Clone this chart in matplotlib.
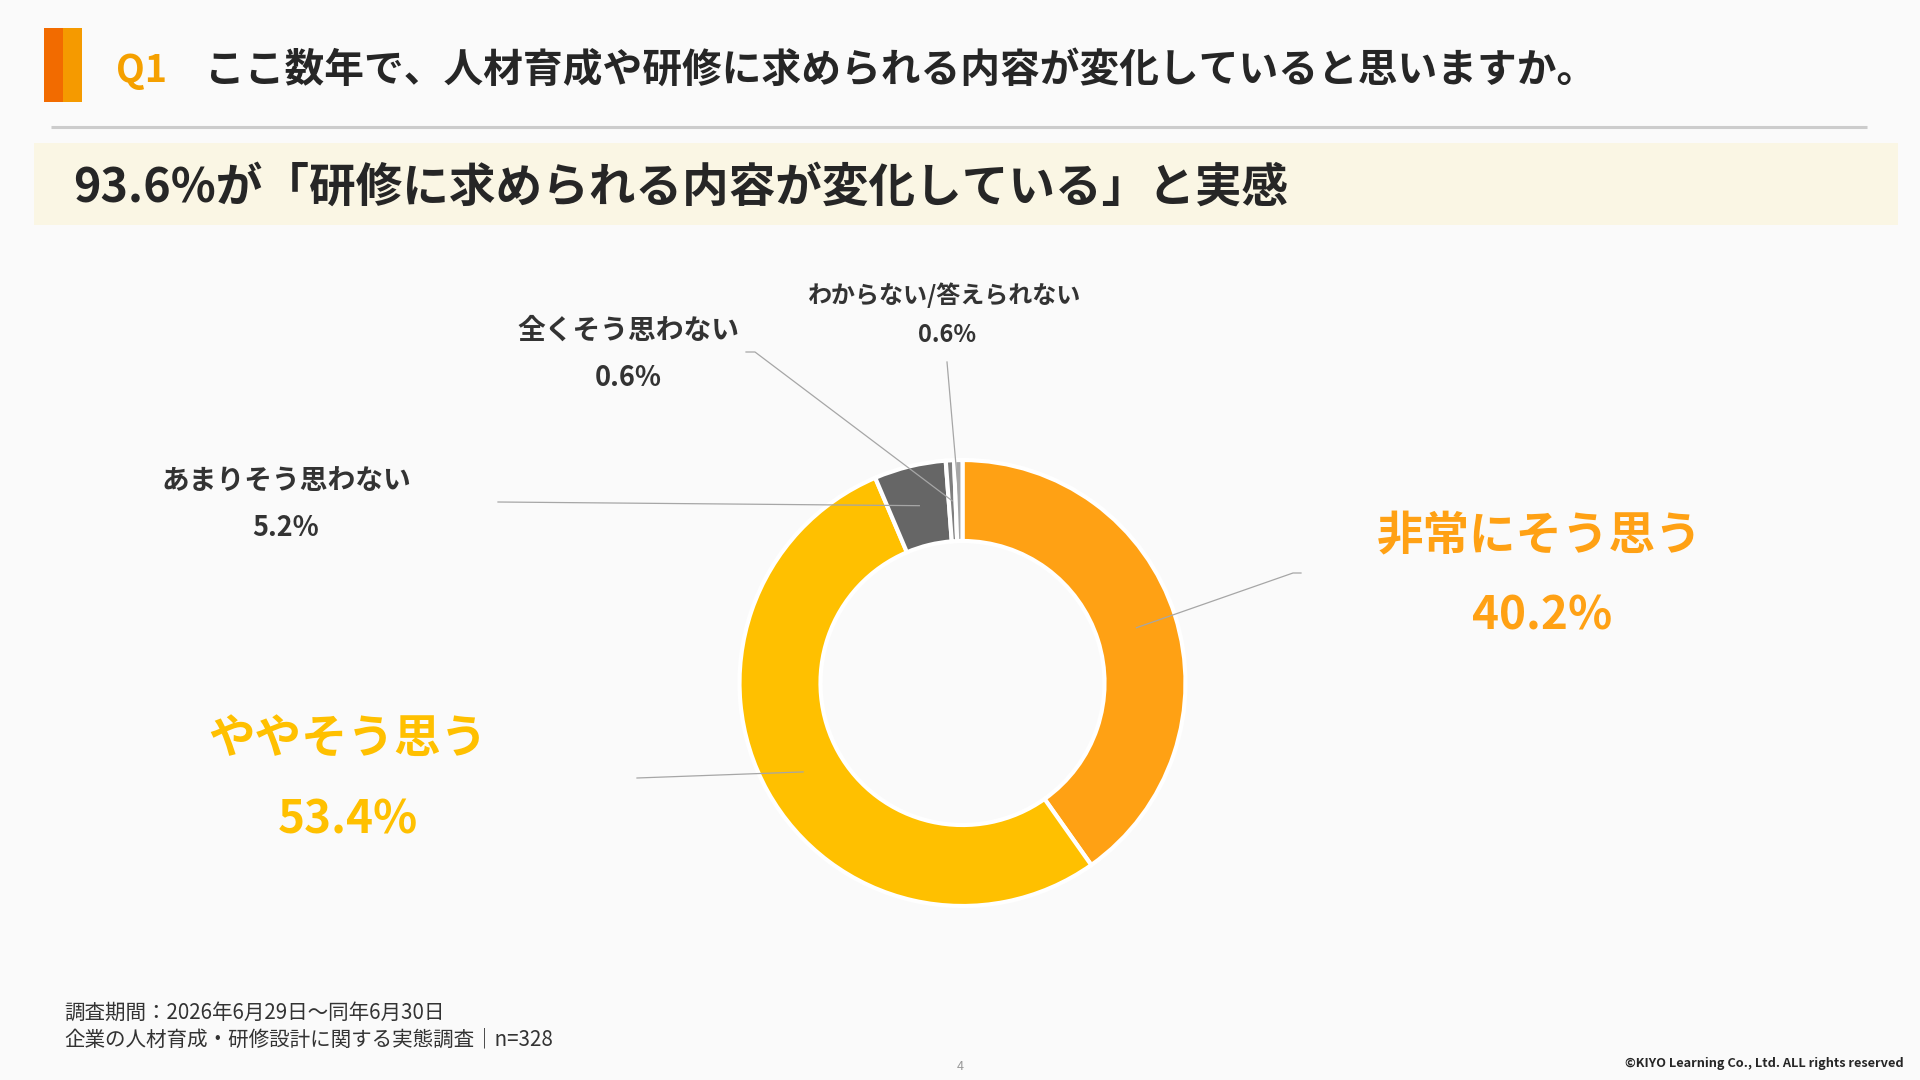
import matplotlib
matplotlib.use('Agg')
import matplotlib.pyplot as plt
from matplotlib.patches import Rectangle
import numpy as np

# ---------------- data ----------------
categories = ['非常にそう思う', 'ややそう思う', 'あまりそう思わない', '全くそう思わない', 'わからない/答えられない']
values = [40.2, 53.4, 5.2, 0.6, 0.6]
colors = ['#FFA114', '#FFC000', '#666666', '#7F7F7F', '#A6A6A6']

question_no = 'Q1'
question = 'ここ数年で、人材育成や研修に求められる内容が変化していると思いますか。'
headline = '93.6%が「研修に求められる内容が変化している」と実感'
notes = ['調査期間：2026年6月29日〜同年6月30日',
         '企業の人材育成・研修設計に関する実態調査｜n=328']
page_no = '4'
copyright_text = '©KIYO Learning Co., Ltd. ALL rights reserved'

# ---------------- layout ----------------
W, H = 1920, 1080
FONT = ['Noto Sans CJK JP', 'DejaVu Sans']
plt.rcParams['font.family'] = FONT
BG = '#FAFAFA'
DARK = '#333333'
LEADER = '#A6A6A6'

def Y(y):
    return H - y

# label layout per category: name pos, pct pos, name size, pct size, color, leader path (after anchor)
label_layout = [
    dict(name=(1540, 536), pct=(1542, 616), ns=33.5, ps=33, color='#FFA114',
         path=[(1293, 573), (1301, 573)]),
    dict(name=(348, 740), pct=(348, 820), ns=33.5, ps=33, color='#FFC000',
         path=[(637, 778)]),
    dict(name=(286, 482), pct=(286, 528), ns=20, ps=19.5, color=DARK,
         path=[(498, 502)]),
    dict(name=(628, 331), pct=(628, 378), ns=20, ps=19.5, color=DARK,
         path=[(755, 352), (746, 352)]),
    dict(name=(945, 295), pct=(947, 335), ns=17.3, ps=17, color=DARK,
         path=[(947, 362)]),
]

fig = plt.figure(figsize=(19.2, 10.8), dpi=100, facecolor=BG)
ax = fig.add_axes([0, 0, 1, 1])

# ---------------- header ----------------
ax.add_patch(Rectangle((44, Y(102)), 19, 74, color='#F26B00', lw=0))
ax.add_patch(Rectangle((63, Y(102)), 19, 74, color='#F59A00', lw=0))
ax.text(116, Y(70), question_no, fontsize=27, fontweight='bold', color='#F5A000',
        ha='left', va='center')
ax.text(205, Y(70), question, fontsize=28.6, fontweight='bold', color='#262626',
        ha='left', va='center')
ax.plot([51, 1867], [Y(127), Y(127)], color='#CCCCCC', lw=2.2, solid_capstyle='butt')

ax.add_patch(Rectangle((34, Y(225)), 1864, 82, color='#FAF6E4', lw=0))
ax.text(73, Y(188), headline, fontsize=33.6, fontweight='bold', color='#262626',
        ha='left', va='center')

# ---------------- donut ----------------
cx, cy = 962.5, Y(683)
R = 223
ring = 81
wedges, _ = ax.pie(values, colors=colors, startangle=90, counterclock=False,
                   radius=R, center=(cx, cy),
                   wedgeprops=dict(width=ring, edgecolor='white', linewidth=3))

rmid = R - ring / 2
for w, cat, v, lay in zip(wedges, categories, values, label_layout):
    th = np.deg2rad((w.theta1 + w.theta2) / 2)
    ax0, ay0 = cx + rmid * np.cos(th), cy + rmid * np.sin(th)
    xs = [ax0] + [p[0] for p in lay['path']]
    ys = [ay0] + [Y(p[1]) for p in lay['path']]
    ax.plot(xs, ys, color=LEADER, lw=0.9, zorder=5)
    ax.text(lay['name'][0], Y(lay['name'][1]), cat, fontsize=lay['ns'],
            fontweight='bold', color=lay['color'], ha='center', va='center')
    ax.text(lay['pct'][0], Y(lay['pct'][1]), f'{v:.1f}%', fontsize=lay['ps'],
            fontweight='bold', color=lay['color'], ha='center', va='center')

# ---------------- footer ----------------
ax.text(64, Y(1013), notes[0], fontsize=14.8, color=DARK, ha='left', va='center')
ax.text(64, Y(1039), notes[1], fontsize=14.8, color=DARK, ha='left', va='center')
ax.text(960, Y(1067), page_no, fontsize=9, color='#999999', ha='center', va='center')
ax.text(1904, Y(1063), copyright_text, fontsize=9.2, fontweight='bold', color='#262626',
        ha='right', va='center')

ax.set_xlim(0, W)
ax.set_ylim(0, H)
ax.set_aspect('auto')
ax.axis('off')

fig.savefig('out.png', dpi=100, facecolor=BG)
